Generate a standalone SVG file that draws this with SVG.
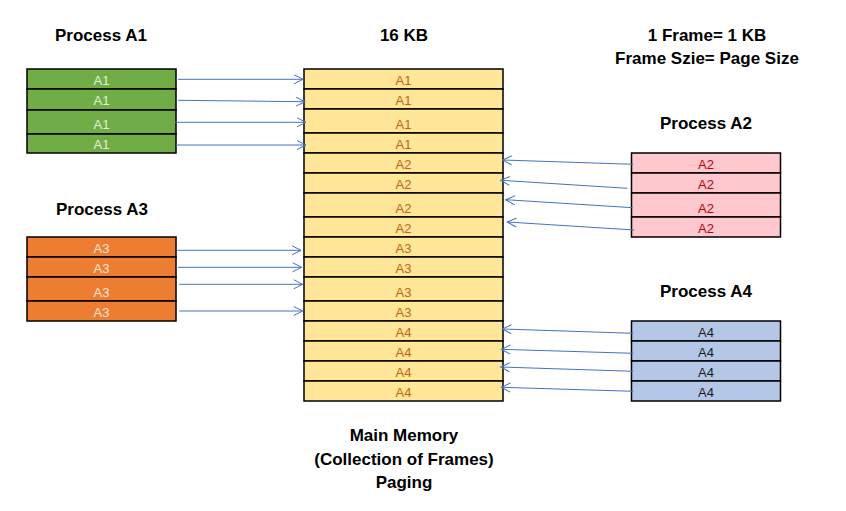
<svg xmlns="http://www.w3.org/2000/svg" width="846" height="511" viewBox="0 0 846 511">
<defs>
<marker id="ah" markerWidth="12" markerHeight="12" refX="10" refY="6" orient="auto" markerUnits="userSpaceOnUse">
<path d="M1,1.5 L10,6 L1,10.5" fill="none" stroke="#4472C4" stroke-width="1"/>
</marker>
<style>
.h{font-family:"Liberation Sans",Arial,sans-serif;font-weight:bold;font-size:17px;fill:#000;text-anchor:middle}
.c{font-family:"Liberation Sans",Arial,sans-serif;font-size:13px;text-anchor:middle}
.cell{stroke:#000;stroke-width:1.5}
.g{fill:#70AD47}.gt{fill:#E2F0D9}
.o{fill:#ED7D31}.ot{fill:#FBE5D6}
.p{fill:#FFC7CE}.pt{fill:#C00000}
.b{fill:#B4C7E7}.bt{fill:#1a1a1a}
.y{fill:#FFE699}.yt{fill:#C0650F}
.ar{stroke:#4472C4;stroke-width:1;fill:none;marker-end:url(#ah)}
</style>
</defs>
<rect width="846" height="511" fill="#fff"/>

<g id="labels">
<text class="h" x="101" y="41">Process A1</text>
<text class="h" x="102" y="215">Process A3</text>
<text class="h" x="706" y="129">Process A2</text>
<text class="h" x="706" y="297">Process A4</text>
<text class="h" x="404" y="41">16 KB</text>
<text class="h" x="707" y="41">1 Frame= 1 KB</text>
<text class="h" x="707" y="64">Frame Szie= Page Size</text>
<text class="h" x="404" y="441">Main Memory</text>
<text class="h" x="404" y="465">(Collection of Frames)</text>
<text class="h" x="404" y="488">Paging</text>
</g>

<g id="processA1">
<rect class="cell g" x="27" y="69" width="149" height="20"/>
<rect class="cell g" x="27" y="89" width="149" height="21"/>
<rect class="cell g" x="27" y="110" width="149" height="24"/>
<rect class="cell g" x="27" y="134" width="149" height="19"/>
<text class="c gt" x="101.5" y="85">A1</text>
<text class="c gt" x="101.5" y="105">A1</text>
<text class="c gt" x="101.5" y="128.5">A1</text>
<text class="c gt" x="101.5" y="148.5">A1</text>
</g>

<g id="processA3">
<rect class="cell o" x="27" y="237" width="149" height="20"/>
<rect class="cell o" x="27" y="257" width="149" height="20"/>
<rect class="cell o" x="27" y="277" width="149" height="24"/>
<rect class="cell o" x="27" y="301" width="149" height="20"/>
<text class="c ot" x="101.5" y="253">A3</text>
<text class="c ot" x="101.5" y="273">A3</text>
<text class="c ot" x="101.5" y="296.5">A3</text>
<text class="c ot" x="101.5" y="317">A3</text>
</g>

<g id="processA2">
<rect class="cell p" x="631.5" y="153" width="149" height="20"/>
<rect class="cell p" x="631.5" y="173" width="149" height="20"/>
<rect class="cell p" x="631.5" y="193" width="149" height="24"/>
<rect class="cell p" x="631.5" y="217" width="149" height="20"/>
<text class="c pt" x="706" y="169">A2</text>
<text class="c pt" x="706" y="189">A2</text>
<text class="c pt" x="706" y="212.5">A2</text>
<text class="c pt" x="706" y="233">A2</text>
</g>

<g id="processA4">
<rect class="cell b" x="631.5" y="321" width="149" height="20"/>
<rect class="cell b" x="631.5" y="341" width="149" height="20"/>
<rect class="cell b" x="631.5" y="361" width="149" height="20"/>
<rect class="cell b" x="631.5" y="381" width="149" height="20"/>
<text class="c bt" x="706" y="337">A4</text>
<text class="c bt" x="706" y="357">A4</text>
<text class="c bt" x="706" y="377">A4</text>
<text class="c bt" x="706" y="397">A4</text>
</g>

<g id="memory">
<rect class="cell y" x="304" y="69" width="199" height="20"/>
<rect class="cell y" x="304" y="89" width="199" height="20"/>
<rect class="cell y" x="304" y="109" width="199" height="24"/>
<rect class="cell y" x="304" y="133" width="199" height="20"/>
<rect class="cell y" x="304" y="153" width="199" height="20"/>
<rect class="cell y" x="304" y="173" width="199" height="20"/>
<rect class="cell y" x="304" y="193" width="199" height="24"/>
<rect class="cell y" x="304" y="217" width="199" height="20"/>
<rect class="cell y" x="304" y="237" width="199" height="20"/>
<rect class="cell y" x="304" y="257" width="199" height="20"/>
<rect class="cell y" x="304" y="277" width="199" height="24"/>
<rect class="cell y" x="304" y="301" width="199" height="20"/>
<rect class="cell y" x="304" y="321" width="199" height="20"/>
<rect class="cell y" x="304" y="341" width="199" height="20"/>
<rect class="cell y" x="304" y="361" width="199" height="20"/>
<rect class="cell y" x="304" y="381" width="199" height="20"/>
<text class="c yt" x="403.5" y="85">A1</text>
<text class="c yt" x="403.5" y="105">A1</text>
<text class="c yt" x="403.5" y="128.5">A1</text>
<text class="c yt" x="403.5" y="149">A1</text>
<text class="c yt" x="403.5" y="169">A2</text>
<text class="c yt" x="403.5" y="189">A2</text>
<text class="c yt" x="403.5" y="212.5">A2</text>
<text class="c yt" x="403.5" y="233">A2</text>
<text class="c yt" x="403.5" y="253">A3</text>
<text class="c yt" x="403.5" y="273">A3</text>
<text class="c yt" x="403.5" y="296.5">A3</text>
<text class="c yt" x="403.5" y="317">A3</text>
<text class="c yt" x="403.5" y="337">A4</text>
<text class="c yt" x="403.5" y="357">A4</text>
<text class="c yt" x="403.5" y="377">A4</text>
<text class="c yt" x="403.5" y="397">A4</text>
</g>

<g id="connectors">
<line class="ar" x1="178" y1="79.3" x2="303" y2="79.3"/>
<line class="ar" x1="178" y1="100.3" x2="305" y2="101.7"/>
<line class="ar" x1="175" y1="122.3" x2="306" y2="122.3"/>
<line class="ar" x1="176" y1="145" x2="306" y2="145"/>
<line class="ar" x1="177.3" y1="250.3" x2="301" y2="250.3"/>
<line class="ar" x1="178" y1="267.3" x2="301.7" y2="267.3"/>
<line class="ar" x1="179.3" y1="284.3" x2="302.7" y2="284.3"/>
<line class="ar" x1="179.3" y1="311" x2="302.7" y2="311"/>
<line class="ar" x1="633.3" y1="164.3" x2="502.7" y2="160"/>
<line class="ar" x1="627.3" y1="188.3" x2="500.7" y2="180.3"/>
<line class="ar" x1="632.7" y1="207.7" x2="505.7" y2="199.7"/>
<line class="ar" x1="634.3" y1="230" x2="507.3" y2="222"/>
<line class="ar" x1="633.3" y1="333.3" x2="502.3" y2="329"/>
<line class="ar" x1="633.3" y1="353.3" x2="501.3" y2="349.3"/>
<line class="ar" x1="633.3" y1="371.3" x2="500.7" y2="367"/>
<line class="ar" x1="633.3" y1="391.3" x2="501.3" y2="387.3"/>
</g>
</svg>
